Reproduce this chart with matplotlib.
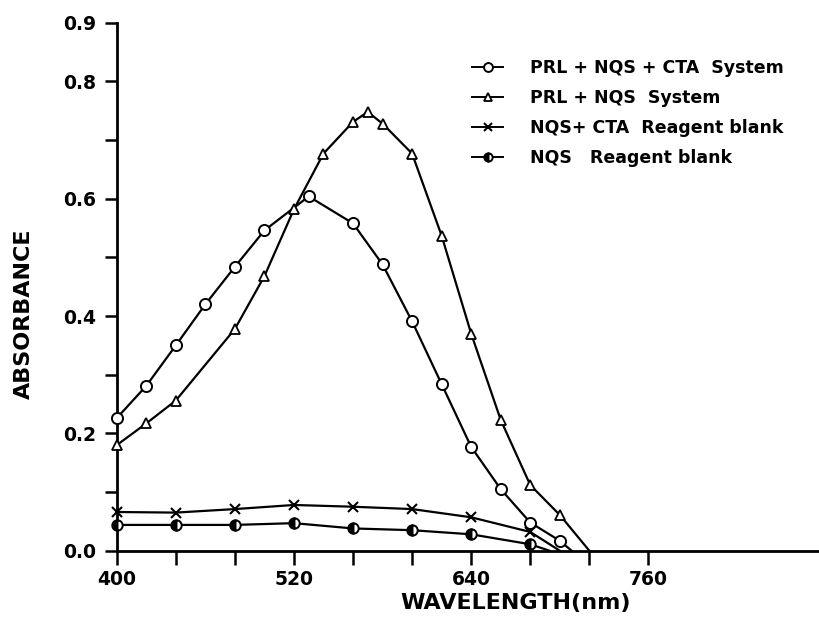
import matplotlib
matplotlib.use("Agg")
from matplotlib import pyplot as plt
from matplotlib.lines import Line2D

plt.rcParams['font.family'] = ['DejaVu Sans']

# PRL + NQS + CTA system (open circles), last point is where the curve meets the axis
wl_cta = [400, 420, 440, 460, 480, 500, 530, 560, 580, 600, 620, 640, 660, 680, 700, 708]
abs_cta = [0.226, 0.281, 0.350, 0.420, 0.484, 0.546, 0.604, 0.558, 0.488, 0.391,
           0.284, 0.177, 0.105, 0.048, 0.017, 0.0]

# PRL + NQS system (triangles)
wl_nqs = [400, 420, 440, 480, 500, 520, 540, 560, 570, 580, 600, 620, 640, 660, 680, 700, 720]
abs_nqs = [0.180, 0.217, 0.256, 0.378, 0.468, 0.582, 0.677, 0.731, 0.748, 0.728,
           0.677, 0.537, 0.370, 0.223, 0.112, 0.061, 0.0]

# NQS + CTA reagent blank (crosses)
wl_blank_cta = [400, 440, 480, 520, 560, 600, 640, 680, 700]
abs_blank_cta = [0.066, 0.065, 0.071, 0.078, 0.075, 0.071, 0.057, 0.032, 0.0]

# NQS reagent blank (half filled circles)
wl_blank = [400, 440, 480, 520, 560, 600, 640, 680, 693]
abs_blank = [0.044, 0.044, 0.044, 0.047, 0.038, 0.035, 0.028, 0.011, 0.0]

legend_labels = ["PRL + NQS + CTA  System", "PRL + NQS  System",
                 "NQS+ CTA  Reagent blank", "NQS   Reagent blank"]

x_ticks = [400, 440, 480, 520, 560, 600, 640, 680, 720, 760]
x_labels = ["400", "", "", "520", "", "", "640", "", "", "760"]
y_ticks = [0.0, 0.1, 0.2, 0.3, 0.4, 0.5, 0.6, 0.7, 0.8, 0.9]
y_labels = ["0.0", "", "0.2", "", "0.4", "", "0.6", "", "0.8", "0.9"]

fig = plt.figure(figsize=(8.19, 6.43), dpi=100)
ax = fig.add_axes([0.1425, 0.1435, 0.8575, 0.8211])

lw = 1.6
styles = [
    dict(marker='o', ms=8, mfc='white', mec='black', mew=1.4),
    dict(marker='^', ms=6.5, mfc='white', mec='black', mew=1.3),
    dict(marker='x', ms=7, mec='black', mew=1.5),
    dict(marker='o', ms=7.5, mfc='black', mfcalt='white', fillstyle='left', mec='black', mew=1.4),
]
series = [(wl_cta, abs_cta), (wl_nqs, abs_nqs), (wl_blank_cta, abs_blank_cta), (wl_blank, abs_blank)]

for (x, y), st in zip(series, styles):
    # the last point only closes the curve on the axis, no marker there
    ax.plot(x, y, color='black', lw=lw, markevery=list(range(len(x) - 1)),
            clip_on=False, zorder=3, **st)

ax.set_xlim(400, 875.5)
ax.set_ylim(0, 0.9)
for s in ['top', 'right']:
    ax.spines[s].set_visible(False)
for s in ['left', 'bottom']:
    ax.spines[s].set_linewidth(2)

ax.set_xticks(x_ticks)
ax.set_xticklabels(x_labels)
ax.set_yticks(y_ticks)
ax.set_yticklabels(y_labels)
ax.tick_params(axis='y', length=9, width=1.8, pad=6, labelsize=13.5)
ax.tick_params(axis='x', length=10, width=1.8, pad=4, labelsize=13.5)
for t in ax.get_xticklabels() + ax.get_yticklabels():
    t.set_fontweight('bold')

fig.text(516 / 819, 1 - 603 / 643, "WAVELENGTH(nm)", ha='center', va='center',
         fontsize=16, fontweight='bold')
fig.text(24 / 819, 1 - 314 / 643, "ABSORBANCE", ha='center', va='center',
         rotation=90, fontsize=16, fontweight='bold')

handles = [Line2D([], [], color='black', lw=1.4, **dict(st, ms=st['ms'] * 0.8)) for st in styles]
ax.legend(handles, legend_labels, loc='upper left',
          bbox_to_anchor=(472 / 819, 1 - 59 / 643), bbox_transform=fig.transFigure,
          frameon=False, borderpad=0, borderaxespad=0, handlelength=1.8,
          handletextpad=1.55, labelspacing=0.69, prop=dict(size=12.5, weight='bold'))

fig.savefig("out.png", dpi=100)
